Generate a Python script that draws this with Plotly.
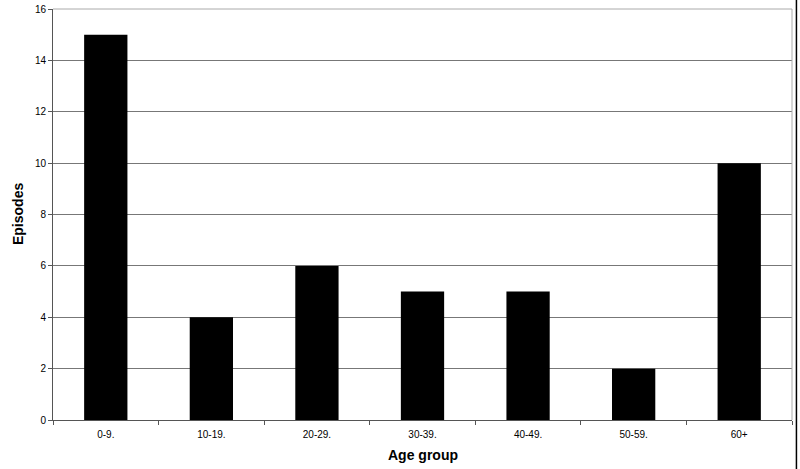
import plotly.graph_objects as go

categories = ["0-9.", "10-19.", "20-29.", "30-39.", "40-49.", "50-59.", "60+"]
episodes = [15, 4, 6, 5, 5, 2, 10]
y_ticks = [0, 2, 4, 6, 8, 10, 12, 14, 16]

fig = go.Figure(go.Bar(x=categories, y=episodes, marker=dict(color="black", line=dict(width=0)), width=0.41))

fig.update_layout(
    width=800, height=469,
    margin=dict(l=53, r=8, t=9, b=49, autoexpand=False),
    paper_bgcolor="white", plot_bgcolor="white",
    font=dict(family="Liberation Sans, Arial", color="black", size=10),
    showlegend=False,
)
fig.update_xaxes(
    automargin=False,
    showline=True, linecolor="#555", linewidth=1,
    ticks="outside", ticklen=4, tickcolor="#555",
    tickson="boundaries",
    tickfont=dict(size=10),
    ticklabelstandoff=5,
)
fig.update_yaxes(
    automargin=False,
    range=[0, 16], tickvals=y_ticks,
    showline=True, linecolor="#555", linewidth=1,
    ticks="outside", ticklen=4, tickcolor="#555",
    showgrid=True, gridcolor="#777", gridwidth=1,
    tickfont=dict(size=10),
    zeroline=False,
)
fig.add_annotation(text="<b>Age group</b>", xref="paper", yref="paper", x=0.5, y=-0.085,
                   xanchor="center", yanchor="middle", showarrow=False, font=dict(size=14))
fig.add_annotation(text="<b>Episodes</b>", xref="paper", yref="paper", x=-0.048, y=0.5,
                   xanchor="center", yanchor="middle", textangle=-90, showarrow=False, font=dict(size=14))
# plot area border on top and right
fig.add_shape(type="line", xref="paper", yref="paper", x0=0, x1=1, y0=1, y1=1, line=dict(color="#aaa", width=1))
fig.add_shape(type="line", xref="paper", yref="paper", x0=1, x1=1, y0=0, y1=1, line=dict(color="#aaa", width=1))
# outer frame edge at right
fig.add_shape(type="line", xref="paper", yref="paper", x0=1.006, x1=1.006, y0=-0.13, y1=1.03,
              line=dict(color="black", width=1.5))

fig.write_html("out.html", config={"displayModeBar": False},
               post_script="document.body.style.margin='0';document.body.style.overflow='hidden';")
